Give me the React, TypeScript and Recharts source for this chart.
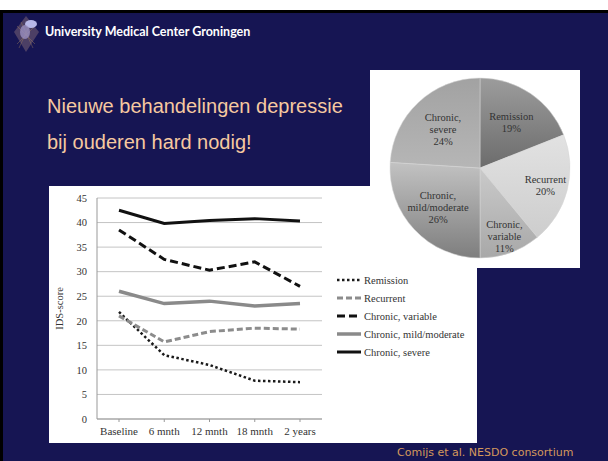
import { LineChart, Line, XAxis, YAxis, CartesianGrid, Legend, Label, PieChart, Pie, Cell } from 'recharts'

const timepoints = ['Baseline', '6 mnth', '12 mnth', '18 mnth', '2 years']
const remission = [21.8, 13.0, 11.0, 7.8, 7.5]
const recurrent = [21.0, 15.7, 17.8, 18.5, 18.3]
const chronicVariable = [38.5, 32.5, 30.3, 32.0, 27.0]
const chronicMild = [26.0, 23.5, 24.0, 23.0, 23.5]
const chronicSevere = [42.5, 39.8, 40.4, 40.8, 40.3]
const yTicks = [0, 5, 10, 15, 20, 25, 30, 35, 40, 45]

const courseNames = ['Remission', 'Recurrent', 'Chronic, variable', 'Chronic, mild/moderate', 'Chronic, severe']
const courseShares = [19, 20, 11, 26, 24]

const NAVY = '#161553'
const SERIF = '"Liberation Serif", "Times New Roman", serif'

const lineData = timepoints.map((t, i) => ({
  t,
  remission: remission[i],
  recurrent: recurrent[i],
  chronicVariable: chronicVariable[i],
  chronicMild: chronicMild[i],
  chronicSevere: chronicSevere[i]
}))

const pieData = courseNames.map((name, i) => ({ name, value: courseShares[i] }))

// line look per series, same order as courseNames
const seriesStyle = [
  { key: 'remission', color: '#1a1a1a', width: 2.5, dash: '2.5 2.5' },
  { key: 'recurrent', color: '#8c8c8c', width: 3, dash: '6 3' },
  { key: 'chronicVariable', color: '#111', width: 3, dash: '8 4' },
  { key: 'chronicMild', color: '#8a8a8a', width: 3.5, dash: undefined },
  { key: 'chronicSevere', color: '#111', width: 3, dash: undefined }
]

// top -> bottom gradient stops for the pie slices
const sliceShades = [
  ['#9c9c9c', '#6c6c6c'],
  ['#e2e2e2', '#cdcdcd'],
  ['#cacaca', '#a8a8a8'],
  ['#c2c2c2', '#7e7e7e'],
  ['#a2a2a2', '#b6b6b6']
]
const labelRadius = [0.62, 0.75, 0.8, 0.64, 0.6]

const RAD = Math.PI / 180

function PieLabel(props: any) {
  const { cx, cy, midAngle, outerRadius, index, name, value } = props
  const r = outerRadius * labelRadius[index]
  const x = cx + r * Math.cos(-midAngle * RAD)
  const y = cy + r * Math.sin(-midAngle * RAD)
  const parts = String(name).split(', ')
  const lines = parts.length > 1 ? [parts[0] + ',', parts[1], `${value}%`] : [parts[0], `${value}%`]
  const start = -((lines.length - 1) / 2) * 12
  return (
    <text x={x} y={y} textAnchor="middle" dominantBaseline="central" fontFamily={SERIF} fontSize={10.5} fill="#333">
      {lines.map((l, i) => (
        <tspan key={i} x={x} dy={i === 0 ? start : 12}>{l}</tspan>
      ))}
    </text>
  )
}

function CourseLegend() {
  return (
    <div style={{ fontFamily: SERIF, fontSize: 10.5, color: '#333' }}>
      {seriesStyle.map((s, i) => (
        <div key={s.key} style={{ display: 'flex', alignItems: 'center', height: 18 }}>
          <svg width={24} height={8} style={{ marginRight: 3 }}>
            <line x1={0} y1={4} x2={24} y2={4} stroke={s.color} strokeWidth={s.width} strokeDasharray={s.dash} />
          </svg>
          <span>{courseNames[i]}</span>
        </div>
      ))}
    </div>
  )
}

function Logo() {
  return (
    <svg width={30} height={40} viewBox="0 0 30 40">
      <polygon points="15,2 28,18 15,38 3,18" fill="#5a4a6a" opacity={0.8} />
      <g stroke="#a08060" strokeWidth={0.6} opacity={0.7}>
        <line x1={6} y1={12} x2={24} y2={30} />
        <line x1={24} y1={12} x2={6} y2={30} />
        <line x1={10} y1={8} x2={22} y2={34} />
        <line x1={20} y1={8} x2={8} y2={34} />
      </g>
      <ellipse cx={20} cy={10} rx={6} ry={4} fill="#b8b8e8" />
      <ellipse cx={14} cy={18} rx={5} ry={7} fill="#9a90c0" opacity={0.8} />
    </svg>
  )
}

export default function App() {
  return (
    <div style={{ position: 'fixed', left: 0, top: 0, width: 608, height: 461, background: '#fff', overflow: 'hidden' }}>
      <div
        style={{
          position: 'absolute',
          left: 0,
          top: 10,
          width: 608,
          height: 451,
          background: NAVY,
          borderTop: '3px solid #000',
          borderLeft: '3px solid #000',
          boxSizing: 'border-box'
        }}
      />
      <div style={{ position: 'absolute', left: 11, top: 14 }}>
        <Logo />
      </div>
      <div
        style={{
          position: 'absolute',
          left: 45,
          top: 24,
          color: '#fff',
          fontFamily: 'Lato, "Open Sans", sans-serif',
          fontWeight: 700,
          fontSize: 12.5,
          whiteSpace: 'nowrap'
        }}
      >
        University Medical Center Groningen
      </div>
      <div
        style={{
          position: 'absolute',
          left: 47,
          top: 88,
          color: '#f6c9a0',
          fontFamily: '"Liberation Sans", Arial, sans-serif',
          fontSize: 20,
          lineHeight: '36px',
          whiteSpace: 'nowrap'
        }}
      >
        <div>Nieuwe behandelingen depressie</div>
        <div>bij ouderen hard nodig!</div>
      </div>

      <div style={{ position: 'absolute', left: 49, top: 186, width: 428, height: 257, background: '#fff' }}>
        <LineChart width={428} height={257} data={lineData} margin={{ top: 12, right: 155, bottom: 0, left: 0 }}>
          <CartesianGrid vertical={false} stroke="#c4c4c4" />
          <XAxis
            dataKey="t"
            height={24}
            stroke="#999"
            padding={{ left: 22, right: 22 }}
            tickSize={3}
            tickMargin={5}
            tick={{ fontFamily: SERIF, fontSize: 11, fill: '#333' }}
          />
          <YAxis
            width={48}
            domain={[0, 45]}
            ticks={yTicks}
            interval={0}
            stroke="#999"
            tickLine={false}
            tickSize={4}
            tickMargin={6}
            tick={{ fontFamily: SERIF, fontSize: 10.5, fill: '#333' }}
          >
            <Label value="IDS-score" angle={-90} position="insideLeft" offset={10} style={{ textAnchor: 'middle', fontFamily: SERIF, fontSize: 10.5, fill: '#333' }} />
          </YAxis>
          <Legend layout="vertical" align="center" verticalAlign="middle" content={<CourseLegend />} wrapperStyle={{ left: 288, top: 85, width: 150 }} />
          {seriesStyle.map((s, i) => (
            <Line
              key={s.key}
              dataKey={s.key}
              name={courseNames[i]}
              stroke={s.color}
              strokeWidth={s.width}
              strokeDasharray={s.dash}
              dot={false}
              isAnimationActive={false}
            />
          ))}
        </LineChart>
      </div>

      <div style={{ position: 'absolute', left: 370, top: 70, width: 210, height: 198, background: '#fff' }}>
        <PieChart width={210} height={198}>
          <defs>
            {sliceShades.map((c, i) => (
              <linearGradient key={i} id={`slice${i}`} x1="0" y1="0" x2="0" y2="1">
                <stop offset="0%" stopColor={c[0]} />
                <stop offset="100%" stopColor={c[1]} />
              </linearGradient>
            ))}
          </defs>
          <Pie
            data={pieData}
            dataKey="value"
            nameKey="name"
            cx={105}
            cy={93}
            outerRadius={90}
            startAngle={90}
            endAngle={-270}
            label={PieLabel}
            labelLine={false}
            isAnimationActive={false}
          >
            {pieData.map((d, i) => (
              <Cell key={d.name} fill={`url(#slice${i})`} stroke="#d6d6d6" strokeWidth={0.5} />
            ))}
          </Pie>
        </PieChart>
      </div>

      <div
        style={{
          position: 'absolute',
          left: 397,
          top: 446,
          color: '#d4985c',
          fontFamily: '"DejaVu Sans", Verdana, sans-serif',
          fontSize: 11,
          whiteSpace: 'nowrap'
        }}
      >
        Comijs et al. NESDO consortium
      </div>
    </div>
  )
}
